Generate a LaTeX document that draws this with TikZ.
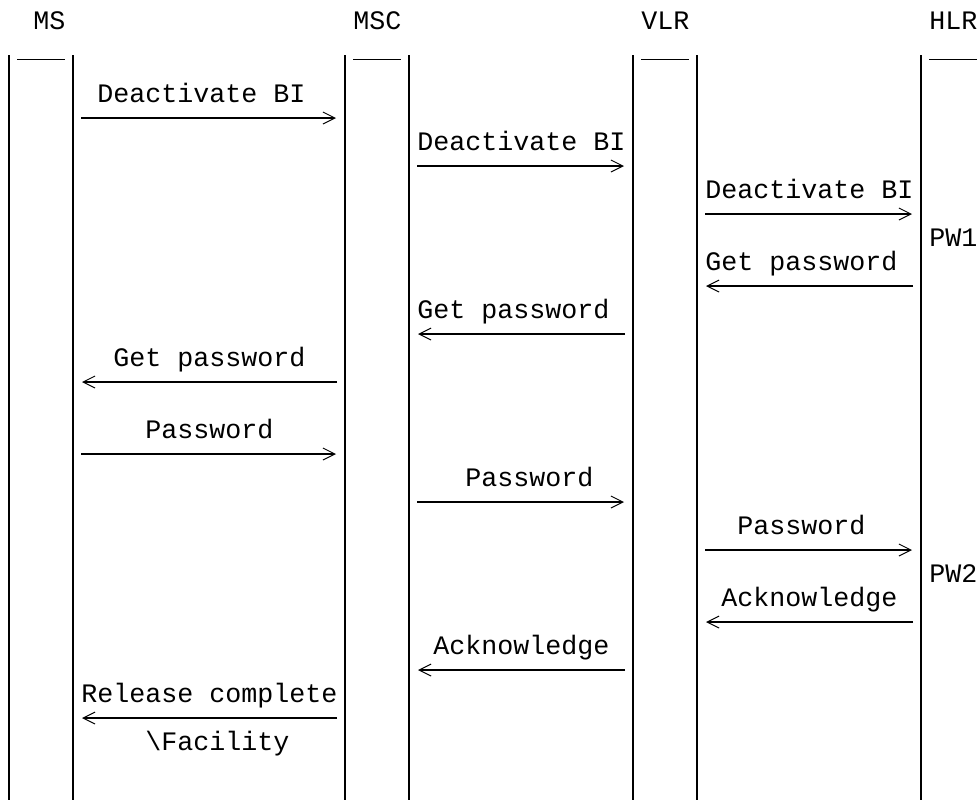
\documentclass[tikz,border=0pt]{standalone}
\usepackage{fontspec}
\setmonofont{Liberation Mono}
\usetikzlibrary{arrows.meta}
\tikzset{
  lbl/.style={font=\ttfamily\fontsize{20pt}{24pt}\selectfont, anchor=base west, inner sep=0pt},
  life/.style={line width=1pt},
  bar/.style={line width=0.75pt},
  tomsg/.style={shorten <=6pt, shorten >=5.25pt,
    -{Straight Barb[length=9pt,width=9pt,line width=0.75pt,sep=1.5pt]}, line width=1.7pt},
}
\begin{document}
\begin{tikzpicture}[x=0.75pt,y=-0.75pt]
  \useasboundingbox (0,0) rectangle (979,800);

  % lifelines
  \coordinate (msL) at (9,55);
  \coordinate (msR) at (73,55);
  \coordinate (mscL) at (345,55);
  \coordinate (mscR) at (409,55);
  \coordinate (vlrL) at (633,55);
  \coordinate (vlrR) at (697,55);
  \coordinate (hlrL) at (921,55);
  \foreach \c in {msL,msR,mscL,mscR,vlrL,vlrR,hlrL}
    \draw[life] (\c) -- (\c |- 0,800);
  \foreach \x in {17,353,641,929}
    \draw[bar] (\x,59) -- ++(48,0);

  \node[lbl] (ms) at (33,29) {MS};
  \node[lbl] (msc) at (353,29) {MSC};
  \node[lbl] (vlr) at (641,29) {VLR};
  \node[lbl] (hlr) at (929,29) {HLR};

  \node[lbl] (m1) at (97,102) {Deactivate BI}; % MS -> MSC
  \draw[tomsg] (msR |- 0,118) -- (mscL |- 0,118);
  \node[lbl] (m2) at (417,150) {Deactivate BI}; % MSC -> VLR
  \draw[tomsg] (mscR |- 0,166) -- (vlrL |- 0,166);
  \node[lbl] (m3) at (705,198) {Deactivate BI}; % VLR -> HLR
  \draw[tomsg] (vlrR |- 0,214) -- (hlrL |- 0,214);
  \node[lbl] (pw1) at (929,246) {PW1};
  \node[lbl] (m4) at (705,270) {Get password}; % HLR -> VLR
  \draw[tomsg] (hlrL |- 0,286) -- (vlrR |- 0,286);
  \node[lbl] (m5) at (417,318) {Get password}; % VLR -> MSC
  \draw[tomsg] (vlrL |- 0,334) -- (mscR |- 0,334);
  \node[lbl] (m6) at (113,366) {Get password}; % MSC -> MS
  \draw[tomsg] (mscL |- 0,382) -- (msR |- 0,382);
  \node[lbl] (m7) at (145,438) {Password}; % MS -> MSC
  \draw[tomsg] (msR |- 0,454) -- (mscL |- 0,454);
  \node[lbl] (m8) at (465,486) {Password}; % MSC -> VLR
  \draw[tomsg] (mscR |- 0,502) -- (vlrL |- 0,502);
  \node[lbl] (m9) at (737,534) {Password}; % VLR -> HLR
  \draw[tomsg] (vlrR |- 0,550) -- (hlrL |- 0,550);
  \node[lbl] (pw2) at (929,582) {PW2};
  \node[lbl] (m10) at (721,606) {Acknowledge}; % HLR -> VLR
  \draw[tomsg] (hlrL |- 0,622) -- (vlrR |- 0,622);
  \node[lbl] (m11) at (433,654) {Acknowledge}; % VLR -> MSC
  \draw[tomsg] (vlrL |- 0,670) -- (mscR |- 0,670);
  \node[lbl] (m12) at (81,702) {Release complete}; % MSC -> MS
  \draw[tomsg] (mscL |- 0,718) -- (msR |- 0,718);
  \node[lbl] (m12b) at (145,750) {\textbackslash Facility};
\end{tikzpicture}
\end{document}
